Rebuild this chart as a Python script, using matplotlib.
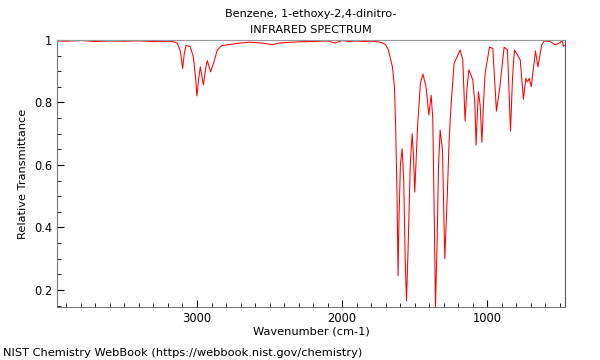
import matplotlib
matplotlib.use("Agg")
import matplotlib.pyplot as plt
from matplotlib.ticker import MultipleLocator, FixedLocator

# spectrum (wavenumber cm-1, relative transmittance)
wavenumber = [
    3965, 3900, 3800, 3700, 3600, 3500, 3400, 3300, 3200, 3160, 3136, 3115,
    3099, 3088, 3076, 3048, 3025, 3010, 3000, 2990, 2977, 2956, 2940, 2929,
    2906, 2883, 2860, 2830, 2750, 2703, 2634, 2550, 2480, 2430, 2380, 2300,
    2200, 2100, 2050, 2000, 1950, 1900, 1850, 1800, 1750, 1720, 1700, 1681,
    1653, 1639, 1630, 1621, 1614, 1608, 1598, 1586, 1575, 1565, 1556, 1545,
    1530, 1517, 1508, 1499, 1480, 1460, 1443, 1421, 1402, 1386, 1375, 1365,
    1356, 1345, 1335, 1324, 1308, 1292, 1275, 1262, 1248, 1228, 1186, 1168,
    1152, 1140, 1126, 1099, 1085, 1076, 1068, 1060, 1048, 1036, 1025, 1014,
    984, 961, 936, 915, 883, 860, 839, 825, 812, 791, 772, 750, 733, 722,
    710, 696, 685, 667, 650, 624, 607, 566, 531, 497, 485, 474, 462,
]
transmittance = [
    0.997, 0.996, 0.998, 0.995, 0.997, 0.996, 0.997, 0.995, 0.996, 0.994, 0.99, 0.965,
    0.909, 0.955, 0.982, 0.979, 0.946, 0.88, 0.821, 0.87, 0.914, 0.856, 0.91, 0.934,
    0.898, 0.93, 0.968, 0.982, 0.987, 0.99, 0.993, 0.99, 0.985, 0.99, 0.992, 0.994,
    0.995, 0.997, 0.99, 0.998, 0.995, 0.997, 0.995, 0.996, 0.994, 0.99, 0.985, 0.968,
    0.914, 0.85, 0.71, 0.497, 0.245, 0.42, 0.6, 0.652, 0.55, 0.3, 0.165, 0.33,
    0.6, 0.70, 0.63, 0.513, 0.72, 0.86, 0.891, 0.85, 0.76, 0.823, 0.75, 0.45,
    0.144, 0.35, 0.6, 0.711, 0.647, 0.30, 0.5, 0.68, 0.797, 0.925, 0.968, 0.936,
    0.74, 0.84, 0.904, 0.872, 0.8, 0.663, 0.76, 0.834, 0.79, 0.672, 0.8, 0.893,
    0.977, 0.973, 0.772, 0.84, 0.977, 0.968, 0.708, 0.88, 0.968, 0.952, 0.936, 0.81, 0.877, 0.866,
    0.877, 0.85, 0.893, 0.965, 0.914, 0.984, 0.997, 0.995, 0.984, 0.991, 1.0, 0.98, 0.984,
]

title = "Benzene, 1-ethoxy-2,4-dinitro-\nINFRARED SPECTRUM"
yticks = [0.2, 0.4, 0.6, 0.8, 1.0]
ytick_labels = ["0.2", "0.4", "0.6", "0.8", "1"]
xticks = [3000, 2000, 1000]

fig = plt.figure(figsize=(6, 3.6), dpi=100)
ax = fig.add_axes([0.095, 0.147, 0.847, 0.742])
ax.plot(wavenumber, transmittance, color="red", lw=0.75)

ax.set_xlim(3965, 462)
ax.set_ylim(0.145, 1.0)
ax.xaxis.set_major_locator(FixedLocator(xticks))
ax.xaxis.set_minor_locator(MultipleLocator(100))
ax.yaxis.set_major_locator(FixedLocator(yticks))
ax.set_yticklabels(ytick_labels)
ax.yaxis.set_minor_locator(MultipleLocator(0.05))
ax.tick_params(which="both", direction="in", labelsize=8.3, top=False, right=False)
ax.tick_params(which="major", length=5)
ax.tick_params(which="minor", length=3)
for s in ax.spines.values():
    s.set_color("#777777")
ax.spines["top"].set_color("#999999")
ax.spines["right"].set_color("#555555")

ax.set_xlabel("Wavenumber (cm-1)", fontsize=8.2, labelpad=1)
ax.set_ylabel("Relative Transmittance", fontsize=8.2)
ax.set_title(title, fontsize=8.1, linespacing=1.75, pad=5)
fig.text(0.005, 0.01, "NIST Chemistry WebBook (https://webbook.nist.gov/chemistry)", fontsize=8.2)

fig.savefig("out.png", dpi=100)
